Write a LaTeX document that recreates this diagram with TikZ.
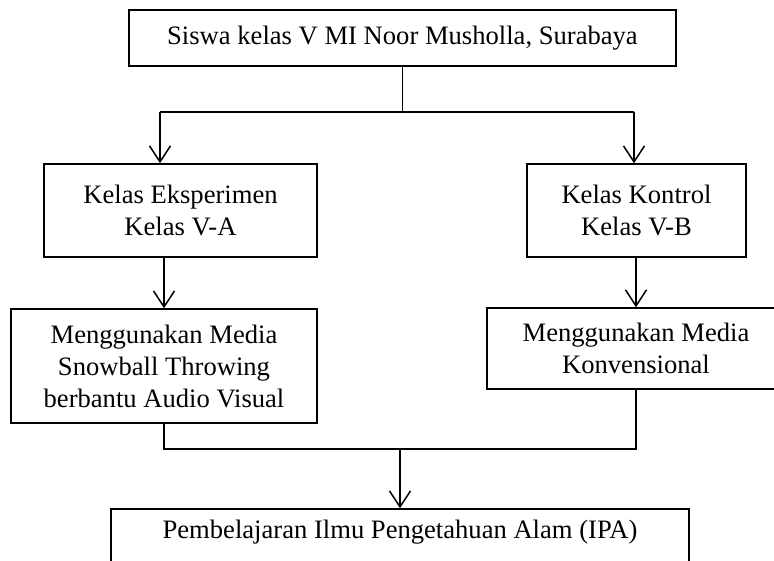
\documentclass[tikz,border=0pt]{standalone}
\usepackage{fontspec}
\setmainfont{Liberation Serif}
\usetikzlibrary{arrows.meta}
\begin{document}
\begin{tikzpicture}[x=1pt,y=-1pt,
  box/.style={draw,line width=1.5pt,inner sep=0pt,align=center,
    font=\fontsize{26.6}{32}\selectfont},
  conn/.style={line width=1.5pt},
  arr/.style={line width=1.5pt,-{Straight Barb[length=16pt,width=21pt,line width=1.5pt]}}]
\clip (0,0) rectangle (774,560);
\fill[white] (0,0) rectangle (774,560);
\node[box,minimum width=547pt,minimum height=56pt] (top) at (402.5,38) {Siswa kelas V MI Noor Musholla, Surabaya};
\node[box,minimum width=273pt,minimum height=93pt] (exp) at (180.5,210.5) {Kelas Eksperimen\\Kelas V-A};
\node[box,minimum width=219pt,minimum height=93pt] (kon) at (636.5,210.5) {Kelas Kontrol\\Kelas V-B};
\node[box,minimum width=306pt,minimum height=114pt] (snow) at (164,366) {Menggunakan Media\\Snowball Throwing\\berbantu Audio Visual};
\node[box,minimum width=298pt,minimum height=81pt] (konv) at (636,348.5) {Menggunakan Media\\Konvensional};
\node[box,minimum width=578pt,minimum height=80pt] (ipa) at (400,549) {};
\node[font=\fontsize{26.6}{32}\selectfont] (ipatext) at (400,532) {Pembelajaran Ilmu Pengetahuan Alam (IPA)};
\coordinate (split) at (402.5,112);
\coordinate (splitL) at (160,112);
\coordinate (splitR) at (634,112);
\coordinate (join) at (400,449);
\draw[conn] (top.south) -- (split);
\draw[conn] (splitL) -- (splitR);
\draw[arr] (splitL) -- (splitL |- exp.north);
\draw[arr] (splitR) -- (splitR |- kon.north);
\draw[arr] (exp.south -| snow.north) -- (snow.north);
\draw[arr] (kon.south -| konv.north) -- (konv.north);
\draw[conn] (snow.south) -- (snow.south |- join) -- (konv.south |- join) -- (konv.south);
\draw[arr] (join) -- (join |- ipa.north);
\end{tikzpicture}
\end{document}
